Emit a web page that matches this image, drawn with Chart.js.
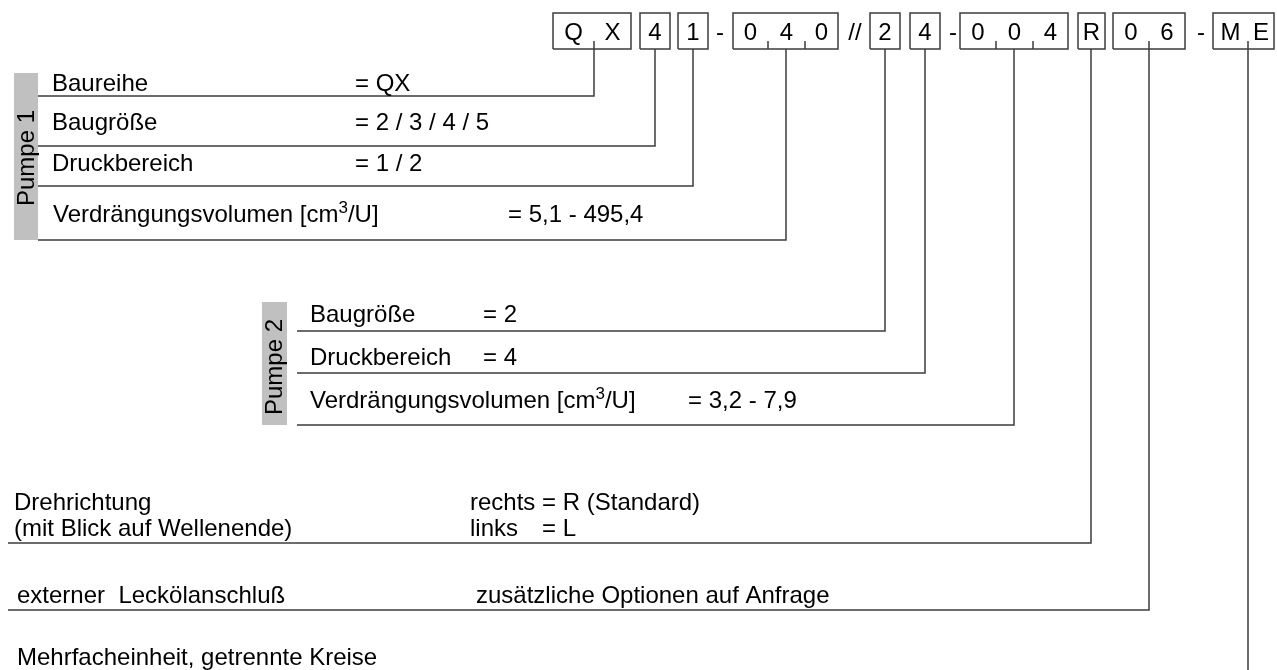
<!DOCTYPE html>
<html><head><meta charset="utf-8">
<script src="https://cdn.jsdelivr.net/npm/chart.js@4.4.0/dist/chart.umd.min.js"></script>
<style>html,body{margin:0;padding:0;background:#fff;overflow:hidden}</style>
</head><body>
<canvas id="c" width="1277" height="670"></canvas>
<script>
// ---- content ----
const codeText = ['QX','4','1','-','040','//','2','4','-','004','R','06','-','ME'];
const pump1Labels = ['Baureihe','Baugröße','Druckbereich','Verdrängungsvolumen [cm³/U]'];
const pump1Values = ['= QX','= 2 / 3 / 4 / 5','= 1 / 2','= 5,1 - 495,4'];
const pump2Labels = ['Baugröße','Druckbereich','Verdrängungsvolumen [cm³/U]'];
const pump2Values = ['= 2','= 4','= 3,2 - 7,9'];
const groupTitles = ['Pumpe 1','Pumpe 2'];
const rotLines = ['Drehrichtung','(mit Blick auf Wellenende)'];
const rotOptions = [['rechts','= R (Standard)'],['links','= L']];
const leakText = ['externer  Leckölanschluß','zusätzliche Optionen auf Anfrage'];
const multiText = ['Mehrfacheinheit, getrennte Kreise'];

// ---- layout (pixel coordinates of the drawing) ----
const codeLeft  = [553,640,678,720,733,855,870,910,953,960,1078,1113,1201,1213];
const codeRight = [631,670,708,null,838,null,900,940,null,1068,1105,1185,null,1274];
const codeDiv   = [[594],[],[],null,[768,805],null,[],[],null,[996,1033],[],[1149],null,[1248]];
const boxTop = 13, boxBottom = 49, tickTop = 41, codeBase = 40;
// leader: [x at code, y of horizontal, x end of horizontal]
const leaders = [[594,96,38],[655,146,38],[693,186,38],[786,240,38],
                 [885,331,297],[925,373,297],[1014,425,297],
                 [1091,543,8],[1149,610,8],[1248,672,1248]];
const pump1LabelPos = [[52,91],[52,130],[52,171],[53,222]];
const pump1ValueX = [355,355,355,508];
const pump2LabelPos = [[310,322],[310,365],[310,408]];
const pump2ValueX = [483,483,688];
const bars = [[14,73,38,240,158],[262,302,287,425,367]]; // x0,y0,x1,y1,textCenterY

const LINE = '#3c3c3c', GRAY = '#c0c0c0';
const FONT = '"Liberation Sans", Arial, Helvetica, sans-serif';

function seg(pts, extra){
  return Object.assign({type:'line', data:pts.map(p=>({x:p[0],y:p[1]})), showLine:true,
    borderColor:LINE, borderWidth:1.5, pointRadius:0, tension:0, fill:false, clip:false}, extra||{});
}
const datasets = [];
bars.forEach(b=>{
  datasets.push(seg([[b[0],b[1]],[b[2],b[1]],[b[2],b[3]],[b[0],b[3]],[b[0],b[1]]],
    {borderWidth:0, borderColor:GRAY, backgroundColor:GRAY, fill:'shape'}));
});
codeText.forEach((t,i)=>{
  if(codeRight[i]==null) return;
  const l=codeLeft[i], r=codeRight[i];
  datasets.push(seg([[l,boxBottom],[l,boxTop],[r,boxTop],[r,boxBottom],[l,boxBottom]]));
  codeDiv[i].forEach(d=>datasets.push(seg([[d,tickTop],[d,boxBottom]])));
});
leaders.forEach(L=>{
  datasets.push(seg([[L[0],boxBottom],[L[0],L[1]],[L[2],L[1]]]));
});

const textPlugin = {
  id:'texts',
  afterDatasetsDraw(chart){
    const c = chart.ctx, xs = chart.scales.x, ys = chart.scales.y;
    const X = v=>xs.getPixelForValue(v), Y = v=>ys.getPixelForValue(v);
    c.save();
    c.fillStyle = '#000';
    c.textBaseline = 'alphabetic';
    function rich(str, x, y, size){
      c.textAlign='left';
      const parts = str.split('³');
      let px = X(x);
      parts.forEach((p,k)=>{
        c.font = size+'px '+FONT;
        c.fillText(p, px, Y(y));
        px += c.measureText(p).width;
        if(k<parts.length-1){
          c.font = Math.round(size*0.7)+'px '+FONT;
          c.fillText('3', px, Y(y) - size*0.36);
          px += c.measureText('3').width;
        }
      });
      c.font = size+'px '+FONT;
    }
    // code row
    c.font = '24px '+FONT; c.textAlign='center';
    codeText.forEach((t,i)=>{
      if(codeRight[i]==null){ c.fillText(t, X(codeLeft[i]), Y(codeBase)); return; }
      const edges=[codeLeft[i]].concat(codeDiv[i]).concat([codeRight[i]]);
      t.split('').forEach((ch,k)=>{
        c.fillText(ch, X((edges[k]+edges[k+1])/2), Y(codeBase));
      });
    });
    const S = 24;
    pump1Labels.forEach((t,i)=>{ rich(t, pump1LabelPos[i][0], pump1LabelPos[i][1], S); rich(pump1Values[i], pump1ValueX[i], pump1LabelPos[i][1], S); });
    pump2Labels.forEach((t,i)=>{ rich(t, pump2LabelPos[i][0], pump2LabelPos[i][1], S); rich(pump2Values[i], pump2ValueX[i], pump2LabelPos[i][1], S); });
    // rotated titles
    groupTitles.forEach((t,i)=>{
      const b=bars[i];
      c.save();
      c.translate(X((b[0]+b[2])/2), Y(b[4]));
      c.rotate(-Math.PI/2);
      c.font = S+'px '+FONT; c.textAlign='center'; c.textBaseline='middle';
      c.fillText(t,0,1);
      c.restore();
    });
    rich(rotLines[0], 14, 510, S);
    rich(rotLines[1], 14, 536, S);
    c.font = S+'px '+FONT;
    const eqX = 470 + c.measureText(rotOptions[0][0]+' ').width;
    rich(rotOptions[0][0], 470, 510, S); rich(rotOptions[0][1], eqX, 510, S);
    rich(rotOptions[1][0], 470, 536, S); rich(rotOptions[1][1], eqX, 536, S);
    rich(leakText[0], 17, 603, S);
    rich(leakText[1], 476, 603, S);
    rich(multiText[0], 17, 665, S);
    c.restore();
  }
};

new Chart(document.getElementById('c'), {
  type:'scatter',
  data:{datasets},
  options:{
    responsive:false, animation:false, events:[],
    layout:{padding:0},
    plugins:{legend:{display:false}, tooltip:{enabled:false}},
    scales:{
      x:{type:'linear', min:0, max:1277, display:false},
      y:{type:'linear', min:0, max:670, reverse:true, display:false}
    }
  },
  plugins:[textPlugin]
});
</script>
</body></html>
